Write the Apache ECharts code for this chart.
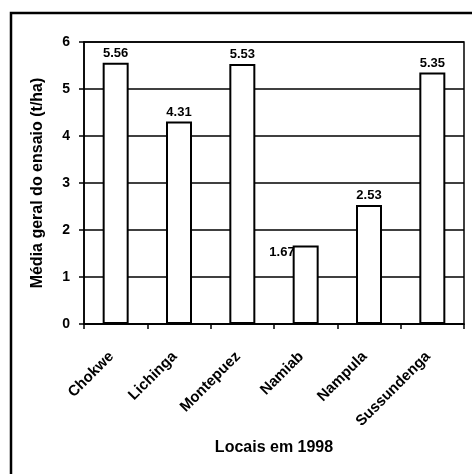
<!DOCTYPE html>
<html>
<head>
<meta charset="utf-8">
<script src="https://cdn.jsdelivr.net/npm/echarts@6/dist/echarts.min.js"></script>
<style>
html,body{margin:0;padding:0;background:#fff;}
#chart{width:472px;height:474px;}
</style>
</head>
<body>
<div id="chart"></div>
<script>
var categories = ['Chokwe', 'Lichinga', 'Montepuez', 'Namiab', 'Nampula', 'Sussundenga'];
var values = [5.56, 4.31, 5.53, 1.67, 2.53, 5.35];
var yTicks = [0, 1, 2, 3, 4, 5, 6];
var yTitle = 'Média geral do ensaio (t/ha)';
var xTitle = 'Locais em 1998';

var FONT = '"Liberation Sans", Arial, sans-serif';
var chart = echarts.init(document.getElementById('chart'), null, {renderer: 'canvas'});

var barData = values.map(function (v, i) {
  var item = {value: v};
  if (categories[i] === 'Namiab') {
    item.label = {position: [2, 0], align: 'right', verticalAlign: 'top'};
  }
  return item;
});

chart.setOption({
  backgroundColor: '#fff',
  animation: false,
  graphic: [{
    type: 'rect',
    shape: {x: 11, y: 13, width: 500, height: 500},
    style: {fill: 'none', stroke: '#000', lineWidth: 2.5},
    z: 100
  }],
  grid: {
    left: 84, top: 42, right: 8, bottom: 150,
    show: true, borderColor: '#000', borderWidth: 1.5, backgroundColor: 'transparent'
  },
  xAxis: {
    type: 'category',
    data: categories,
    boundaryGap: true,
    name: xTitle,
    nameLocation: 'middle',
    nameGap: 116,
    nameTextStyle: {fontFamily: FONT, fontSize: 16, fontWeight: 'bold', color: '#000'},
    axisLine: {lineStyle: {color: '#000', width: 1.5}},
    axisTick: {show: true, alignWithLabel: false, length: 5, lineStyle: {color: '#000', width: 1.5}},
    axisLabel: {
      rotate: 45, margin: 26, interval: 0, padding: [0, 6, 0, 0],
      fontFamily: FONT, fontSize: 15, fontWeight: 'bold', color: '#000'
    },
    splitLine: {show: false}
  },
  yAxis: {
    type: 'value',
    min: yTicks[0], max: yTicks[yTicks.length - 1], interval: 1,
    name: yTitle,
    nameLocation: 'middle',
    nameGap: 38,
    nameRotate: 90,
    nameTextStyle: {fontFamily: FONT, fontSize: 16, fontWeight: 'bold', color: '#000'},
    axisLine: {show: true, lineStyle: {color: '#000', width: 1.5}},
    axisTick: {show: true, length: 5, lineStyle: {color: '#000', width: 1.5}},
    axisLabel: {margin: 14, fontFamily: FONT, fontSize: 14, fontWeight: 'bold', color: '#000'},
    splitLine: {show: true, lineStyle: {color: '#000', width: 1.5}}
  },
  series: [{
    type: 'bar',
    data: barData,
    barWidth: 26,
    itemStyle: {color: '#fff', borderColor: '#000', borderWidth: 2},
    label: {
      show: true, position: 'top', distance: 3,
      fontFamily: FONT, fontSize: 13, fontWeight: 'bold', color: '#000',
      formatter: function (p) { return p.value.toFixed(2); }
    }
  }]
});
</script>
</body>
</html>
